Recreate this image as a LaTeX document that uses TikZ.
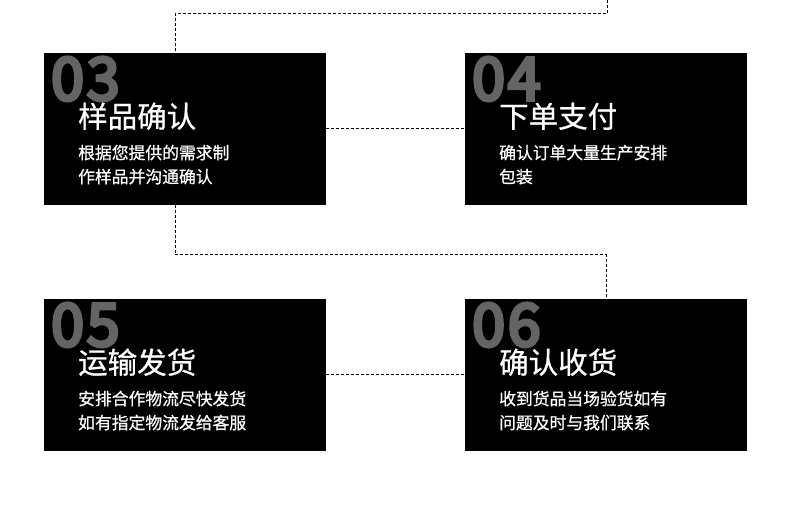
\documentclass[tikz,border=0pt]{standalone}
\usepackage{fontspec}
\newfontfamily\cjk{Noto Sans CJK SC}[FakeBold=0.7]
\newfontfamily\numfont{Noto Sans CJK SC}[FakeBold=6,LetterSpace=5]
\begin{document}
\begin{tikzpicture}[x=1pt,y=-1pt,
  card/.style={fill=black,draw=none,minimum width=282pt,minimum height=152pt,inner sep=0pt},
  numtxt/.style={anchor=base west,inner sep=0pt,text=numgray,font=\numfont\fontsize{59}{59}\selectfont},
  titletxt/.style={anchor=base west,inner sep=0pt,text=white,font=\cjk\fontsize{29.5}{30}\selectfont},
  bodytxt/.style={anchor=base west,inner sep=0pt,text=white,font=\cjk\fontsize{16.8}{18}\selectfont},
  link/.style={draw=black,line width=1pt,dash pattern=on 3pt off 2pt}]
\definecolor{numgray}{HTML}{646464}
\useasboundingbox (0,0) rectangle (790,526);
\fill[white] (0,0) rectangle (790,526);
% cards
\node[card] (b3) at (185,129) {};
\node[card] (b4) at (606,129) {};
\node[card] (b5) at (185,375) {};
\node[card] (b6) at (606,375) {};
% coordinates for connectors
\coordinate (t0) at (607,0);
\coordinate (t1) at (607,14);
\coordinate (t2) at (175,14);
\coordinate (t3) at (175,53);
\coordinate (m0) at (175,205);
\coordinate (m1) at (175,255);
\coordinate (m2) at (606,255);
% connectors
\draw[link] (t0) -- (t1) -- (t2) -- (t3);
\draw[link] (b3.east) -- (b4.west);
\draw[link] (m0) -- (m1) -- (m2) -- (b6.north);
\draw[link] (b5.east) -- (b6.west);
% card 03
\node[numtxt] (n3) at (51,100) {03};
\node[titletxt] (h3) at (78,127.5) {样品确认};
\node[bodytxt] (p3a) at (78,159) {根据您提供的需求制};
\node[bodytxt] (p3b) at (78,183) {作样品并沟通确认};
% card 04
\node[numtxt] (n4) at (472,100) {04};
\node[titletxt] (h4) at (499,127.5) {下单支付};
\node[bodytxt] (p4a) at (499,159) {确认订单大量生产安排};
\node[bodytxt] (p4b) at (499,183) {包装};
% card 05
\node[numtxt] (n5) at (51,346) {05};
\node[titletxt] (h5) at (78,373.5) {运输发货};
\node[bodytxt] (p5a) at (78,405) {安排合作物流尽快发货};
\node[bodytxt] (p5b) at (78,429) {如有指定物流发给客服};
% card 06
\node[numtxt] (n6) at (472,346) {06};
\node[titletxt] (h6) at (499,373.5) {确认收货};
\node[bodytxt] (p6a) at (499,405) {收到货品当场验货如有};
\node[bodytxt] (p6b) at (499,429) {问题及时与我们联系};
\end{tikzpicture}
\end{document}
